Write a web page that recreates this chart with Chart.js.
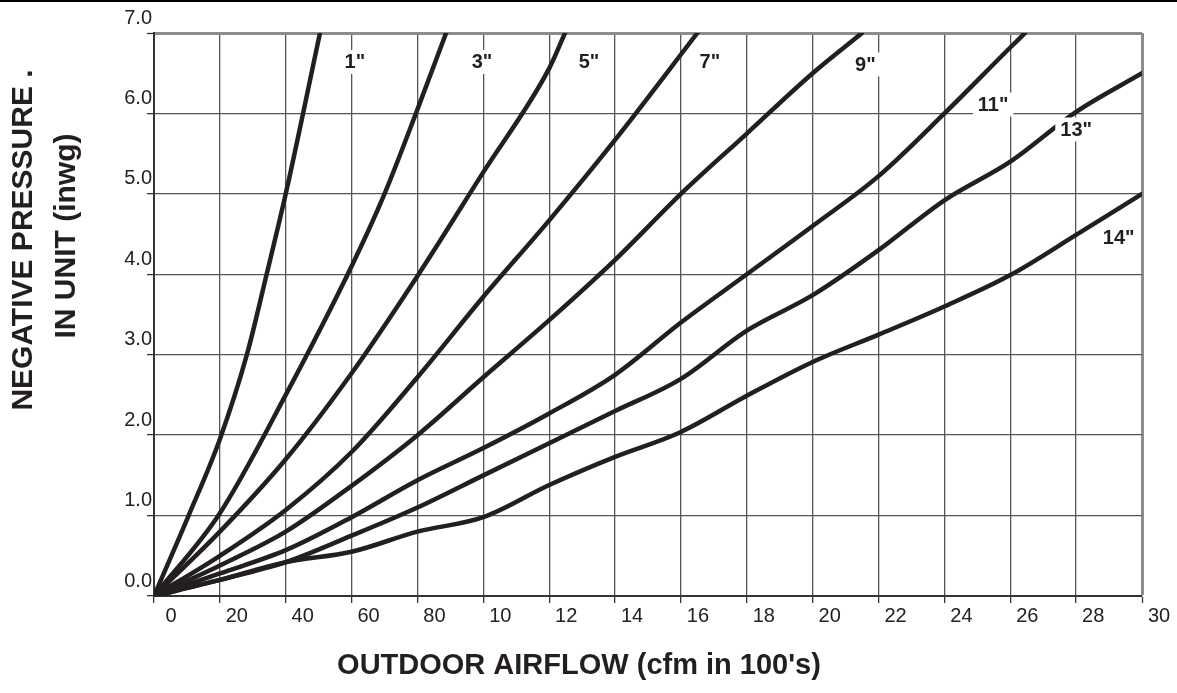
<!DOCTYPE html>
<html>
<head>
<meta charset="utf-8">
<title>Negative pressure vs outdoor airflow</title>
<script src="https://cdn.jsdelivr.net/npm/chart.js@4.4.1/dist/chart.umd.min.js"></script>
<style>
  html, body { margin: 0; padding: 0; background: #fff; }
  canvas { display: block; }
</style>
</head>
<body>
<canvas id="chart" width="1177" height="693"></canvas>
<script>
/* ─── Values: [airflow (100's cfm), pressure (inwg)] ─── */

const sizeLabels = ['1"', '3"', '5"', '7"', '9"', '11"', '13"', '14"'];

const curve1  = [[0,0],[1.05,1.0],[2,1.95],[2.82,3.0],[3.42,4.0],[4,5.0],[5.04,7.0]];
const curve3  = [[0,0],[2,1.03],[4,2.5],[6,4.1],[7,5.0],[8,6.05],[8.87,7.0]];
const curve5  = [[0,0],[2,0.8],[4,1.7],[6,2.77],[8,3.98],[10,5.27],[12,6.56],[12.48,7.0]];
const curve7  = [[0,0],[2,0.5],[4,1.07],[6,1.79],[8,2.72],[10,3.72],[12,4.67],[14,5.67],[16.5,7.0]];
const curve9  = [[0,0],[2,0.38],[4,0.8],[6,1.37],[8,2.0],[10,2.72],[12,3.43],[14,4.18],[16,5.0],[18,5.75],[20,6.5],[21.5,7.0]];
const curve11 = [[0,0],[2,0.28],[4,0.57],[6,0.98],[8,1.44],[10,1.84],[12,2.27],[14,2.75],[16,3.4],[18,4.0],[20,4.6],[22,5.22],[24,6.0],[26,6.82],[26.45,7.0]];
const curve13 = [[0,0],[2,0.2],[4,0.42],[6,0.75],[8,1.1],[10,1.5],[12,1.9],[14,2.3],[16,2.7],[18,3.3],[20,3.74],[22,4.3],[24,4.92],[26,5.4],[28,6.02],[30,6.5]];
const curve14 = [[0,0],[2,0.2],[4,0.42],[6,0.55],[8,0.8],[10,0.98],[12,1.38],[14,1.73],[16,2.04],[18,2.49],[20,2.91],[22,3.25],[24,3.6],[26,3.99],[28,4.49],[30,5.0]];

const curves = [curve1, curve3, curve5, curve7, curve9, curve11, curve13, curve14];

// where each curve's name sits, in chart units
const labelSpots = [[6.1,6.64],[9.96,6.64],[13.21,6.64],[16.88,6.64],[21.6,6.61],[25.48,6.11],[28.0,5.8],[29.29,4.46]];

const xTicks      = [0,2,4,6,8,10,12,14,16,18,20,22,24,26,28,30];
const xTickLabels = ['0','20','40','60','80','10','12','14','16','18','20','22','24','26','28','30'];
const yTickLabels = ['0.0','1.0','2.0','3.0','4.0','5.0','6.0','7.0'];

const yTitle = ['NEGATIVE PRESSURE .', 'IN UNIT (inwg)'];
const xTitle = "OUTDOOR AIRFLOW (cfm in 100's)";

const INK  = '#231f20';
const FONT = '"Liberation Sans", Arial, sans-serif';

/* ─── Plugins: curve names with white boxes, axis titles, top rule ─── */

const curveNames = {
  id: 'curveNames',
  afterDatasetsDraw(chart) {
    const { ctx, scales: { x, y } } = chart;
    ctx.save();
    ctx.font = `bold 20px ${FONT}`;
    ctx.textAlign = 'center';
    ctx.textBaseline = 'middle';
    sizeLabels.forEach((t, i) => {
      const px = x.getPixelForValue(labelSpots[i][0]);
      const py = y.getPixelForValue(labelSpots[i][1]);
      const w = ctx.measureText(t).width;
      ctx.fillStyle = '#fff';
      ctx.fillRect(px - w / 2 - 5, py - 12, w + 10, 24);
      ctx.fillStyle = INK;
      ctx.fillText(t, px, py + 1);
    });
    ctx.restore();
  }
};

const titles = {
  id: 'titles',
  afterDraw(chart) {
    const { ctx } = chart;
    ctx.save();
    ctx.fillStyle = INK;
    ctx.textAlign = 'center';
    ctx.textBaseline = 'middle';

    ctx.font = `bold 29px ${FONT}`;
    ctx.fillText(xTitle, 579, 666);

    ctx.font = `bold 30px ${FONT}`;
    [[24, 240], [67, 236]].forEach(([cx, cy], i) => {
      ctx.save();
      ctx.translate(cx, cy);
      ctx.rotate(-Math.PI / 2);
      ctx.fillText(yTitle[i], 0, 0);
      ctx.restore();
    });

    // thin black rule along the top of the page
    ctx.fillStyle = '#000';
    ctx.fillRect(0, 0, chart.width, 2);
    ctx.restore();
  }
};

/* ─── Chart ─── */

new Chart(document.getElementById('chart'), {
  type: 'line',
  data: {
    datasets: curves.map((c, i) => ({
      label: sizeLabels[i],
      data: c.map(([x, y]) => ({ x, y })),
      borderColor: INK,
      borderWidth: 4.5,
      pointRadius: 0,
      fill: false,
      cubicInterpolationMode: 'monotone',
      borderCapStyle: 'round',
      borderJoinStyle: 'round'
    }))
  },
  options: {
    responsive: false,
    animation: false,
    layout: { padding: { top: 33, right: 35, bottom: 0, left: 0 } },
    plugins: {
      legend: { display: false },
      tooltip: { enabled: false }
    },
    scales: {
      x: {
        type: 'linear',
        min: 0,
        max: 30,
        afterFit: s => { s.height = 97; },
        afterBuildTicks: s => { s.ticks = xTicks.map(v => ({ value: v })); },
        border: { color: '#333', width: 2 },
        grid: {
          color: c => (c.tick && c.tick.value === 30 ? '#8c8c8c' : '#555'),
          lineWidth: c => (c.tick && c.tick.value === 30 ? 3 : 1.3),
          tickLength: 7,
          tickColor: '#333',
          tickWidth: 1.3
        },
        ticks: {
          autoSkip: false,
          maxRotation: 0,
          padding: 1,
          labelOffset: 17,
          color: '#222',
          font: { family: FONT, size: 20 },
          callback: v => xTickLabels[xTicks.indexOf(v)]
        }
      },
      y: {
        type: 'linear',
        min: 0,
        max: 7,
        afterFit: s => { s.width = 154; },
        border: { color: '#333', width: 2 },
        grid: {
          color: c => (c.tick && c.tick.value === 7 ? '#8c8c8c' : '#555'),
          lineWidth: c => (c.tick && c.tick.value === 7 ? 3 : 1.3),
          tickLength: 7,
          tickColor: '#333',
          tickWidth: 1.3
        },
        ticks: {
          stepSize: 1,
          padding: -5,
          labelOffset: -15,
          color: '#222',
          font: { family: FONT, size: 20 },
          callback: v => yTickLabels[v]
        }
      }
    }
  },
  plugins: [curveNames, titles]
});
</script>
</body>
</html>
